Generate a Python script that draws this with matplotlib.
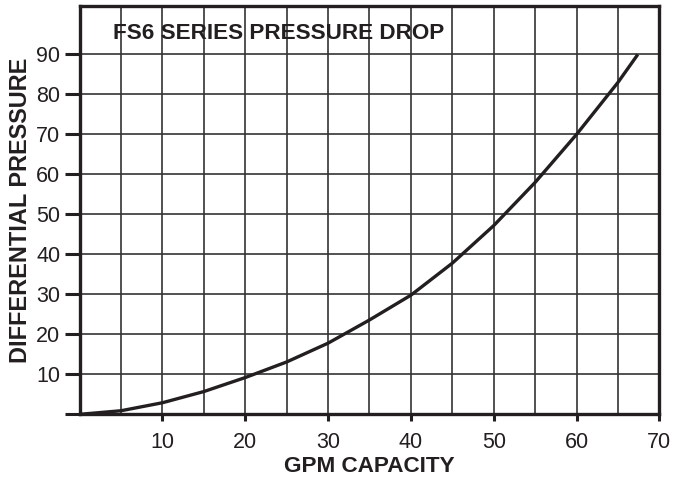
import numpy as np
import matplotlib.pyplot as plt

plt.rcParams['font.family'] = ['Liberation Sans', 'DejaVu Sans']

# flow (GPM) vs differential pressure
gpm = [0, 5, 10, 15, 20, 25, 30, 35, 40, 45, 50, 55, 60, 65, 67.4]
dp = [0, 0.9, 2.9, 5.7, 9.2, 13.1, 17.8, 23.6, 29.8, 37.8, 47.2, 58.0, 70.0, 83.0, 90]

x_major = [10, 20, 30, 40, 50, 60, 70]
x_minor = [5, 15, 25, 35, 45, 55, 65]
y_ticks = [0, 10, 20, 30, 40, 50, 60, 70, 80, 90]
y_labels = [''] + [str(v) for v in y_ticks[1:]]

title = 'FS6 SERIES PRESSURE DROP'
xlabel = 'GPM CAPACITY'
ylabel = 'DIFFERENTIAL PRESSURE'

ink = '#231f20'

fig = plt.figure(figsize=(6.75, 4.79), dpi=100)
ax = fig.add_axes([0.118, 0.135, 0.8588, 0.8515])

ax.plot(gpm, dp, color=ink, lw=2.4, solid_capstyle='butt',
        solid_joinstyle='round', zorder=3)

ax.set_xlim(0, 70)
ax.set_ylim(0, 102)

ax.set_xticks(x_major)
ax.set_xticks(x_minor, minor=True)
ax.set_yticks(y_ticks)
ax.set_yticklabels(y_labels)

ax.grid(True, which='both', axis='x', color='#333333', lw=1.2)
ax.grid(True, which='major', axis='y', color='#333333', lw=1.2)

for s in ax.spines.values():
    s.set_linewidth(2.4)
    s.set_color(ink)

ax.tick_params(axis='x', which='major', direction='out', length=5, width=2.2,
               color=ink, labelsize=15.5, pad=8, labelcolor=ink)
ax.tick_params(axis='x', which='minor', length=0)
ax.tick_params(axis='y', direction='out', length=11, width=2.2,
               color=ink, labelsize=15.5, pad=3, labelcolor=ink)

ax.text(4.0, 95.3, title, fontsize=16.2, fontweight='bold', color=ink,
        va='center', ha='left')

ax.set_xlabel(xlabel, fontsize=16.2, fontweight='bold', color=ink, labelpad=2)
ax.set_ylabel(ylabel, fontsize=16.9, fontweight='bold', color=ink, labelpad=3)

fig.savefig('out.png', dpi=100)
